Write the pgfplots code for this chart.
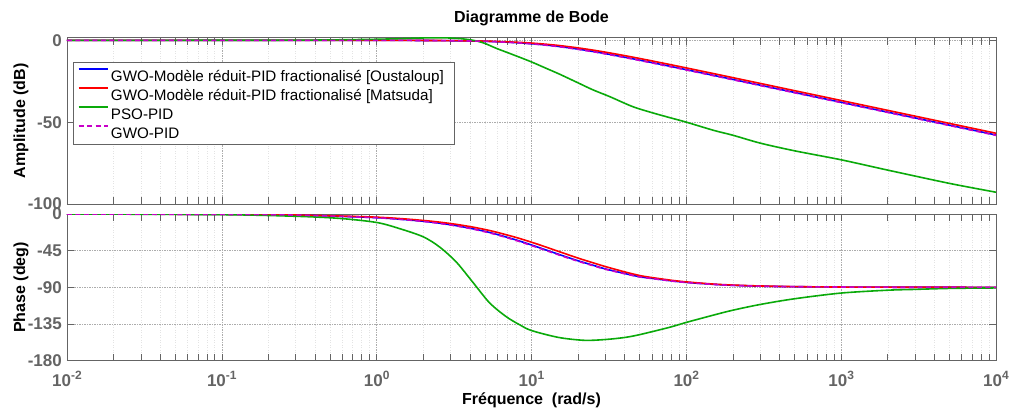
\documentclass[border=0pt]{standalone}
\usepackage{fontspec}
\setmainfont{Liberation Sans}
\usepackage{pgfplots}
\pgfplotsset{compat=1.18}
\definecolor{axgray}{RGB}{100,100,100}
\definecolor{cblue}{RGB}{0,0,255}
\definecolor{cred}{RGB}{255,0,0}
\definecolor{cgreen}{RGB}{10,170,10}
\definecolor{cmag}{RGB}{200,0,200}
\newcommand{\tlab}[1]{10\raisebox{7bp}{\fontsize{12bp}{12bp}\selectfont\bfseries #1}}
\pgfplotsset{
  /pgfplots/bodebase/.style={
    xmin=0.01, xmax=10000,
    scale only axis, width=929bp,
    axis line style={axgray, line width=0.7bp},
    tick style={axgray, line width=0.6bp},
    major tick length=7bp, minor tick length=7bp,
    tick align=inside,
    xtick={0.01,0.1,1,10,100,1000,10000},
    minor xtick={0.02,0.03,0.04,0.05,0.06,0.07,0.08,0.09,0.2,0.3,0.4,0.5,0.6,0.7,0.8,0.9,2,3,4,5,6,7,8,9,20,30,40,50,60,70,80,90,200,300,400,500,600,700,800,900,2000,3000,4000,5000,6000,7000,8000,9000},
    xmajorgrids, xminorgrids, ymajorgrids,
    major grid style={gray!65, line width=0.6bp, dash pattern=on 1.5bp off 1bp},
    minor grid style={gray!22, line width=0.5bp, dash pattern=on 1bp off 1.5bp},
    tick label style={font=\fontsize{17bp}{20bp}\selectfont\bfseries, text=axgray},
    yticklabel style={anchor=east, inner sep=0pt, xshift=-5bp},
    xticklabel style={anchor=base, inner sep=0pt, yshift=-25.3bp},
    ylabel style={font=\fontsize{16bp}{19bp}\selectfont\bfseries, at={(axis description cs:-0.0452,0.5)}, anchor=base},
    clip=true,
  },
}
\begin{document}
\begin{tikzpicture}
\begin{semilogxaxis}[bodebase,
  at={(0,0)}, anchor=north west, height=166.3bp,
  ymin=-100, ymax=1.6,
  ytick={-100,-50,0}, yticklabels={-100,-50,0},
  xticklabels={},
  ylabel={Amplitude (dB)},
  title={Diagramme de Bode},
  title style={font=\fontsize{16bp}{19bp}\selectfont\bfseries, at={(axis description cs:0.5,1)}, anchor=base, yshift=9.4bp},
  legend style={at={(axis description cs:0.0065,0.852)}, anchor=north west,
    draw=axgray, fill=white,
    inner xsep=4.4bp, inner ysep=4.5bp, row sep=3.5bp, column sep=2.3bp,
    font=\fontsize{15.2bp}{18bp}\selectfont,
    nodes={inner sep=0pt, text height=14bp, text depth=1.5bp}},
  legend cell align=left,
  legend image code/.code={\draw[#1,/tikz/line width=2bp] (0bp,5.45bp) -- (29bp,5.45bp);},
]
\addplot[cblue, line width=1.6bp, smooth] coordinates {(0.01,0)(0.1,0)(0.3,0)(1,-0.03)(2,-0.10)(3,-0.23)(4,-0.40)(5,-0.62)(6,-0.86)(8,-1.43)(10,-2.07)(12,-2.74)(15,-3.75)(20,-5.37)(25,-6.83)(30,-8.12)(40,-10.32)(50,-12.11)(60,-13.61)(80,-16.03)(100,-17.93)(150,-21.41)(200,-23.89)(300,-27.41)(500,-31.84)(1000,-37.86)(2000,-43.88)(5000,-51.83)(10000,-57.85)};
\addlegendentry{GWO-Modèle réduit-PID fractionalisé [Oustaloup]\hspace*{6.3bp}}
\addplot[cred, line width=1.6bp, smooth] coordinates {(0.01,0)(0.1,0)(0.3,0)(1,-0.02)(2,-0.08)(3,-0.18)(4,-0.32)(5,-0.49)(6,-0.69)(8,-1.16)(10,-1.69)(12,-2.27)(15,-3.16)(20,-4.63)(25,-5.99)(30,-7.23)(40,-9.35)(50,-11.10)(60,-12.58)(80,-14.97)(100,-16.86)(150,-20.33)(200,-22.82)(300,-26.32)(500,-30.76)(1000,-36.77)(2000,-42.79)(5000,-50.75)(10000,-56.77)};
\addlegendentry{GWO-Modèle réduit-PID fractionalisé [Matsuda]}
\addplot[cgreen, line width=1.6bp, smooth] coordinates {(0.01,0)(0.1,0.02)(0.3,0.1)(0.5,0.25)(1,0.65)(1.5,1.1)(2,1.45)(2.5,1.55)(3,1.4)(3.5,1.0)(4,0.35)(4.5,-0.6)(5,-1.9)(5.6,-3.9)(6,-5.1)(7,-7.5)(8,-9.6)(10,-13.2)(12.5,-17.2)(15.2,-20.7)(20,-26)(25,-30.3)(32,-34.4)(45,-40.5)(60,-44.2)(80,-47.5)(100,-50)(150,-55)(200,-58)(300,-62.8)(500,-67.5)(1000,-73)(2000,-79.3)(5000,-87.4)(10000,-92.8)};
\addlegendentry{PSO-PID}
\addplot[cmag, line width=1.6bp, smooth, dash pattern=on 5bp off 3.5bp] coordinates {(0.01,0)(0.1,0)(0.3,0)(1,-0.03)(2,-0.11)(3,-0.24)(4,-0.42)(5,-0.64)(6,-0.89)(8,-1.48)(10,-2.15)(12,-2.84)(15,-3.87)(20,-5.51)(25,-6.99)(30,-8.30)(40,-10.51)(50,-12.30)(60,-13.81)(80,-16.23)(100,-18.13)(150,-21.61)(200,-24.10)(300,-27.61)(500,-32.04)(1000,-38.06)(2000,-44.08)(5000,-52.04)(10000,-58.06)};
\addlegendentry{GWO-PID}
\end{semilogxaxis}
\begin{semilogxaxis}[bodebase,
  at={(0,-176.3bp)}, anchor=north west, height=146.7bp,
  ymin=-180, ymax=0,
  ytick={-180,-135,-90,-45,0}, yticklabels={-180,-135,-90,-45,0},
  xticklabels={\tlab{-2},\tlab{-1},\tlab{0},\tlab{1},\tlab{2},\tlab{3},\tlab{4}},
  ylabel={Phase (deg)},
  xlabel={Fréquence~ (rad/s)},
  xlabel style={font=\fontsize{16bp}{19bp}\selectfont\bfseries, at={(axis description cs:0.5,0)}, anchor=base, yshift=-43.8bp},
]
\addplot[cblue, line width=1.6bp, smooth] coordinates {(0.01,0)(0.1,-0.4)(0.3,-1.3)(1,-4.5)(2,-8.9)(3,-13.2)(4,-17.4)(5,-21.3)(6,-25.1)(8,-32.0)(10,-38.0)(12,-43.2)(15,-49.5)(20,-57.4)(25,-62.9)(30,-67.4)(40,-73.0)(50,-77.0)(60,-79.0)(80,-82.0)(100,-83.9)(150,-86.3)(200,-87.5)(300,-88.5)(500,-89.2)(1000,-89.6)(2000,-89.8)(5000,-89.9)(10000,-90)};
\addplot[cred, line width=1.6bp, smooth] coordinates {(0.01,0)(0.1,-0.4)(0.3,-1.2)(1,-3.9)(2,-7.9)(3,-11.7)(4,-15.4)(5,-19.0)(6,-22.5)(8,-28.9)(10,-34.6)(12,-39.6)(15,-46.0)(20,-54.1)(25,-59.9)(30,-64.5)(40,-71.0)(50,-75.5)(60,-78.0)(80,-81.3)(100,-83.3)(150,-86.0)(200,-87.2)(300,-88.3)(500,-89.1)(1000,-89.6)(2000,-89.8)(5000,-89.9)(10000,-90)};
\addplot[cgreen, line width=1.6bp, smooth] coordinates {(0.01,0)(0.1,-0.8)(0.3,-2.8)(0.577,-5.4)(1,-10.4)(1.41,-18)(2,-28)(2.55,-40.5)(3.27,-59)(4.19,-84)(5.36,-109)(6.87,-126)(8.4,-136)(10,-143)(15,-151.5)(22,-155)(30,-154)(40,-151.5)(50,-148)(78,-139)(100,-133)(150,-124)(200,-118)(300,-111)(500,-104)(1000,-97)(2000,-93.5)(3000,-92.5)(5000,-91.3)(10000,-90.7)};
\addplot[cmag, line width=1.6bp, smooth, dash pattern=on 5bp off 3.5bp] coordinates {(0.01,0)(0.1,-0.5)(0.3,-1.4)(1,-4.6)(2,-9.1)(3,-13.5)(4,-17.7)(5,-21.8)(6,-25.6)(8,-32.6)(10,-38.7)(12,-43.8)(15,-50.2)(20,-58.0)(25,-63.4)(30,-67.8)(40,-73.3)(50,-77.2)(60,-79.2)(80,-82.2)(100,-84.0)(150,-86.4)(200,-87.6)(300,-88.6)(500,-89.2)(1000,-89.6)(2000,-89.8)(5000,-89.9)(10000,-90)};
\end{semilogxaxis}
\pgfresetboundingbox
\path[use as bounding box] (-67bp,37.7bp) rectangle (942bp,-370.3bp);
\end{tikzpicture}
\end{document}
